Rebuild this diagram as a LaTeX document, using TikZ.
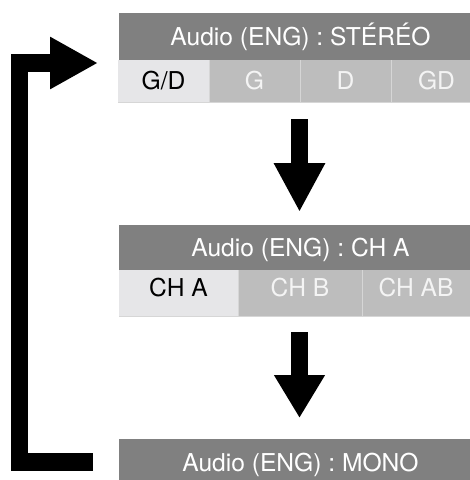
\documentclass[tikz,border=0pt]{standalone}
\usepackage{fontspec}
\setmainfont{TeX Gyre Heros}
\usetikzlibrary{arrows.meta}
\definecolor{hdr}{HTML}{808080}
\definecolor{selc}{HTML}{E6E6E8}
\definecolor{cellc}{HTML}{BDBDBD}
\definecolor{sepc}{HTML}{D6D6D6}
\definecolor{dimtext}{HTML}{F4F4F4}
\begin{document}
\begin{tikzpicture}[x=1pt,y=-1pt,
  every node/.style={inner sep=0pt, outer sep=0pt, font=\fontsize{24.6}{28}\selectfont, text height=17.5pt, text depth=0pt},
  header/.style={fill=hdr, text=white, minimum height=#1, minimum width=363pt, anchor=north west},
  selcell/.style={fill=selc, text=black, anchor=north west},
  cellbox/.style={fill=cellc, text=dimtext, anchor=north west},
  sepline/.style={draw=sepc, line width=1pt},
  bigarrow/.style={line width=17.5pt, line join=miter}]
\useasboundingbox (0,0) rectangle (470,480);
% block 1
\node[header=47pt] (h1) at (119,13) {Audio (ENG) : STÉRÉO};
\node[selcell, minimum width=91pt, minimum height=42pt] (gd) at (118,60) {G/D};
\node[cellbox, minimum width=91pt, minimum height=42pt] (g) at (209,60) {G};
\node[cellbox, minimum width=91pt, minimum height=42pt] (d) at (300,60) {D};
\node[cellbox, minimum width=91pt, minimum height=42pt] (gdd) at (391,60) {GD};
\draw[sepline] (gd.north east) -- (gd.south east);
\draw[sepline] (g.north east) -- (g.south east);
\draw[sepline] (d.north east) -- (d.south east);
\draw[sepline] (gd.south west) -- (gdd.south east);
% block 2
\node[header=45pt] (h2) at (119,225) {Audio (ENG) : CH A};
\node[selcell, minimum width=119pt, minimum height=46pt, text depth=10pt] (cha) at (119,270) {CH A};
\node[cellbox, minimum width=124pt, minimum height=46pt, text depth=10pt] (chb) at (238,270) {CH B};
\node[cellbox, minimum width=108pt, minimum height=46pt, text depth=10pt] (chab) at (362,270) {CH AB};
\draw[sepline] (cha.north east) -- (cha.south east);
\draw[sepline] (chb.north east) -- (chb.south east);
\draw[sepline] (cha.south west) -- (chab.south east);
% block 3
\node[header=47pt] (h3) at (119,439) {Audio (ENG) : MONO};
% arrows
\coordinate (a1s) at (299.5,119);
\coordinate (a1e) at (299.5,212);
\coordinate (a2s) at (299.5,332);
\coordinate (a2e) at (299.5,418);
\draw[bigarrow, line width=17pt, -{Triangle[width=48pt,length=49pt]}] (a1s) -- (a1e);
\draw[bigarrow, line width=17pt, -{Triangle[width=48pt,length=43pt]}] (a2s) -- (a2e);
\coordinate (bs) at (93,462);
\coordinate (bc1) at (19.5,462);
\coordinate (bc2) at (19.5,63);
\coordinate (be) at (98,63);
\draw[bigarrow, -{Triangle[width=49pt,length=48pt]}] (bs) -- (bc1) -- (bc2) -- (be);
\end{tikzpicture}
\end{document}
